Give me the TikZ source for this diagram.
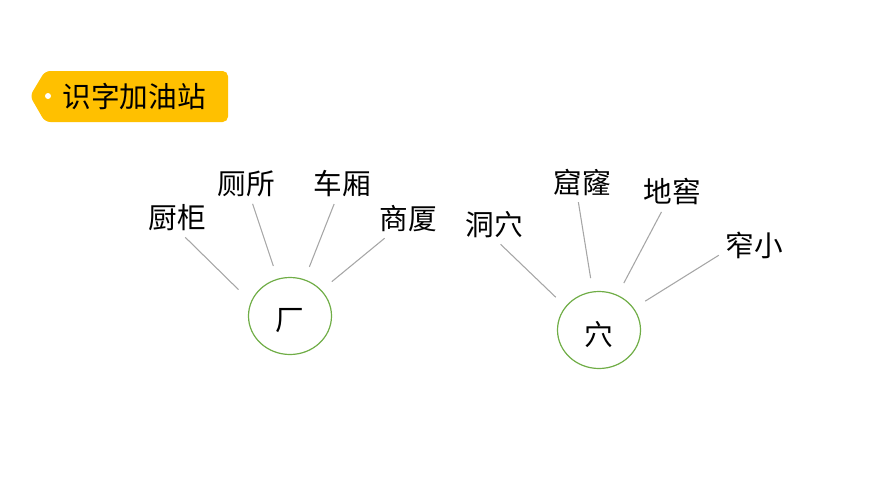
\documentclass[tikz,border=0pt]{standalone}
\usepackage{fontspec}
\newfontfamily\cjk{Noto Sans CJK SC}
\usetikzlibrary{positioning,calc,shapes.geometric}
\definecolor{tag}{HTML}{FFC000}
\definecolor{ring}{HTML}{70AD47}
\definecolor{wire}{HTML}{A6A6A6}
\definecolor{ink}{HTML}{000000}
\tikzset{
  every node/.style={font=\cjk\fontsize{21.5}{24}\selectfont,text=ink},
  word/.style={inner sep=3pt},
  root/.style={ellipse,draw=ring,line width=0.9pt,minimum width=83\pxu,minimum height=77\pxu,inner sep=0pt},
  link/.style={draw=wire,line width=0.8pt,shorten <=2pt,shorten >=10pt},
  tagbox/.style={fill=tag,rounded corners=4pt},
}
\newcommand{\pxu}{pt*0.75}
\begin{document}
\begin{tikzpicture}[x=0.75pt,y=-0.75pt]
\useasboundingbox (0,0) rectangle (870,489);

% tag
\fill[tagbox] (30,96) -- (45,71) -- (228,71) -- (228,122) -- (45,122) -- cycle;
\fill[white] (48,96) circle (3);
\node[word] (title) at (134,97) {识字加油站};

% left group
\node[root] (chang) at (290,316) {};
\node at (290,321) {厂};
\node[word] (chugui) at (177,218) {厨柜};
\node[word] (cesuo) at (246,184) {厕所};
\node[word] (chexiang) at (342,184) {车厢};
\node[word] (shangsha) at (408,219) {商厦};
\draw[link,shorten >=13pt] (chugui.-70) -- (chang.160);
\foreach \w in {cesuo,chexiang,shangsha} {\draw[link] (\w) -- (chang);}

% right group
\node[root] (xue) at (599,330) {};
\node at (599,335) {穴};
\node[word] (dongxue) at (494,225) {洞穴};
\node[word] (kulong) at (582,182) {窟窿};
\node[word] (dijiao) at (672,192) {地窖};
\node[word] (zhaixiao) at (754,245) {窄小};
\draw[link] (dongxue.-75) -- (xue.145);
\draw[link] (kulong.-103) -- (xue);
\draw[link] (dijiao) -- (xue);
\draw[link] (zhaixiao.-165) -- (xue.32);

\end{tikzpicture}
\end{document}
